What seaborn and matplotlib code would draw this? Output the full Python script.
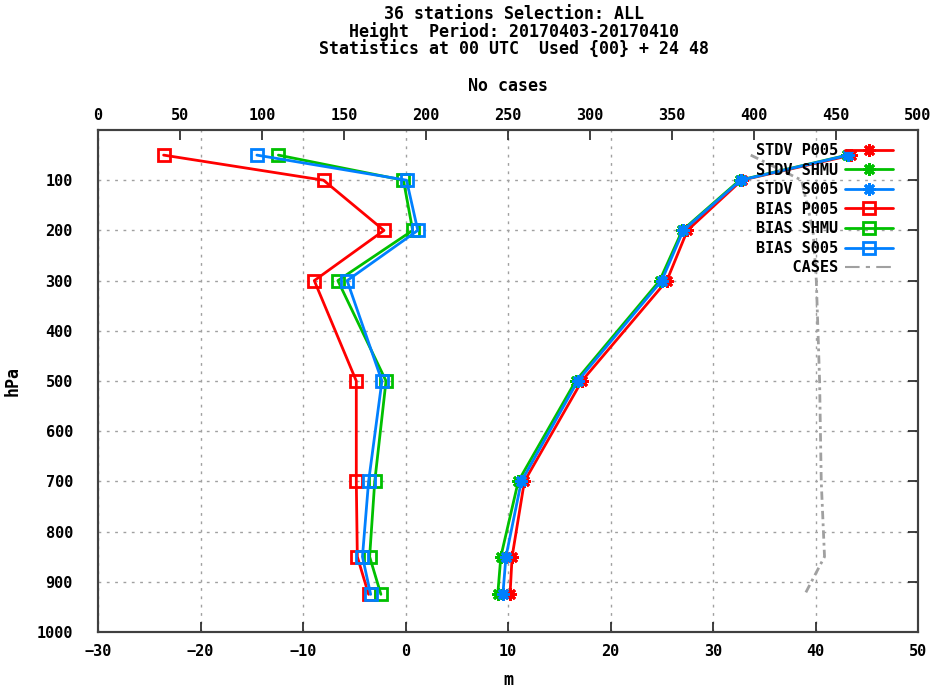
import matplotlib
matplotlib.use("Agg")
import matplotlib.pyplot as plt
import seaborn as sns
import pandas as pd
from matplotlib.lines import Line2D

levels = [50, 100, 200, 300, 500, 700, 850, 925]

stdv_p005 = [43.5, 32.8, 27.5, 25.5, 17.2, 11.6, 10.4, 10.2]
stdv_shmu = [43.1, 32.6, 27.0, 24.8, 16.6, 11.0, 9.3, 9.0]
stdv_s005 = [43.2, 32.7, 27.1, 25.0, 16.8, 11.3, 9.8, 9.5]

bias_p005 = [-23.6, -8.0, -2.1, -8.9, -4.8, -4.8, -4.7, -3.6]
bias_shmu = [-12.4, -0.2, 0.7, -6.6, -1.9, -3.0, -3.5, -2.4]
bias_s005 = [-14.5, 0.1, 1.2, -5.7, -2.3, -3.6, -4.2, -3.4]

cases = [398, 429, 436, 438, 440, 441, 443, 431]

red, green, blue, grey = "#ff0000", "#00c000", "#0080ff", "#a0a0a0"

sns.set_theme(style="white")
plt.rcParams["font.family"] = ["DejaVu Sans Mono"]
plt.rcParams["font.weight"] = "bold"
plt.rcParams["axes.labelweight"] = "bold"
plt.rcParams["axes.labelcolor"] = "black"
plt.rcParams["text.color"] = "black"
plt.rcParams["font.size"] = 12

fig = plt.figure(figsize=(9.34, 6.87), dpi=100)
ax = fig.add_axes([98 / 934, 1 - 632 / 687, 820 / 934, 502 / 687])

series = [
    ("STDV P005", stdv_p005, red, (8, 2, 0), "full"),
    ("STDV SHMU", stdv_shmu, green, (8, 2, 0), "full"),
    ("STDV S005", stdv_s005, blue, (8, 2, 0), "full"),
    ("BIAS P005", bias_p005, red, "s", "none"),
    ("BIAS SHMU", bias_shmu, green, "s", "none"),
    ("BIAS S005", bias_s005, blue, "s", "none"),
]

handles = []
for name, vals, col, mk, fill in series:
    df = pd.DataFrame({"m": vals, "hPa": levels})
    sns.lineplot(data=df, x="m", y="hPa", orient="y", sort=False, ax=ax,
                 color=col, lw=2, marker=mk, markersize=9,
                 mec=col, mfc=col if fill == "full" else "none",
                 mew=2, legend=False)
    handles.append(Line2D([], [], color=col, lw=2, marker=mk, markersize=9,
                          mec=col, mfc=col if fill == "full" else "none", mew=2))

ax.set_xlim(-30, 50)
ax.set_ylim(1000, 0)
ax.set_xticks(range(-30, 51, 10))
ax.set_yticks(range(100, 1001, 100))
ax.set_xlabel("m", labelpad=8)
ax.set_ylabel("hPa")
ax.yaxis.set_label_coords(-0.093, 0.5)
ax.grid(True, ls=(0, (2, 4)), color=grey, lw=1)
ax.tick_params(direction="in", length=7, width=1.2, right=True, top=False,
               colors="#202020", labelcolor="black")
ax.tick_params(axis="x", pad=9)
ax.tick_params(axis="y", pad=18)

ax2 = ax.twiny()
cdf = pd.DataFrame({"n": cases, "hPa": levels})
sns.lineplot(data=cdf, x="n", y="hPa", orient="y", sort=False, ax=ax2,
             color=grey, lw=2, dashes=False, legend=False)
ax2.lines[-1].set_dashes((3, 1.5, 1, 1.5))
ax2.set_xlim(0, 500)
ax2.set_ylim(1000, 0)
ax2.set_xticks(range(0, 501, 50))
ax2.set_xlabel("No cases", labelpad=12)
ax2.tick_params(direction="in", length=7, width=1.2, pad=5,
                colors="#202020", labelcolor="black")
ax2.grid(False)
handles.append(Line2D([], [], color=grey, lw=1.5, dashes=(7, 3, 2, 3)))

for a in (ax, ax2):
    for s in a.spines.values():
        s.set_color("#404040")
        s.set_linewidth(1.5)

labels = [s[0] for s in series] + ["    CASES"]
ax2.legend(handles, labels, loc="upper right", frameon=False, markerfirst=False,
           numpoints=1, handlelength=3.1, labelspacing=0.3, handletextpad=0.5,
           borderaxespad=0.45, bbox_to_anchor=(0.985, 1.0))

fig.text(514 / 934, 1 - 5 / 687,
         "36 stations Selection: ALL\nHeight  Period: 20170403-20170410\nStatistics at 00 UTC  Used {00} + 24 48",
         ha="center", va="top", multialignment="center", linespacing=0.95,
         fontweight="bold")

fig.savefig("out.png", dpi=100)
